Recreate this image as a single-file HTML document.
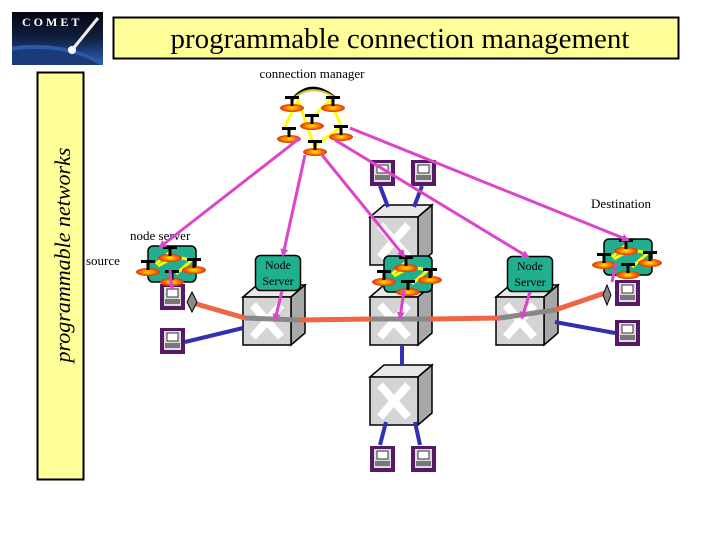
<!DOCTYPE html>
<html><head><meta charset="utf-8"><style>
body{margin:0;background:#fff}
svg{display:block}
text{font-family:"Liberation Serif",serif}
</style></head><body>
<svg width="720" height="540" viewBox="0 0 720 540" xmlns="http://www.w3.org/2000/svg">
<defs>
<radialGradient id="dg" cx="50%" cy="50%" r="50%"><stop offset="0" stop-color="#ffee00"/><stop offset="0.5" stop-color="#ff8800"/><stop offset="1" stop-color="#dd3300"/></radialGradient>
<linearGradient id="sky" x1="0" y1="0" x2="0" y2="1"><stop offset="0" stop-color="#050510"/><stop offset="0.5" stop-color="#102040"/><stop offset="1" stop-color="#3060c0"/></linearGradient>
<clipPath id="lc"><rect x="12" y="12" width="91" height="53"/></clipPath>
<marker id="ah" markerWidth="8" markerHeight="8" refX="6" refY="4" orient="auto" markerUnits="userSpaceOnUse"><path d="M0,0 L8,4 L0,8 Z" fill="#dd44cc"/></marker>
<g id="cube">
<polygon points="0,12 14,0 62,0 48,12" fill="#e8e8e8" stroke="#000" stroke-width="1.5"/>
<polygon points="48,12 62,0 62,48 48,60" fill="#a8a8a8" stroke="#000" stroke-width="1.5"/>
<rect x="0" y="12" width="48" height="48" fill="#d4d4d4" stroke="#000" stroke-width="1.5"/>
<path d="M10,20 L38,52 M38,20 L10,52" stroke="#fff" stroke-width="8"/>
</g>
<g id="pc">
<rect x="0" y="0" width="25" height="26" fill="#551a66"/>
<rect x="4" y="3" width="17" height="19" fill="#ddd"/>
<rect x="7" y="5" width="11" height="8" fill="#fff" stroke="#333"/>
<rect x="5" y="15" width="15" height="5" fill="#777"/>
</g>
<g id="disc">
<ellipse cx="0" cy="4" rx="12" ry="4" fill="url(#dg)"/>
<rect x="-1.5" y="-6" width="3" height="8" fill="#000"/>
<rect x="-7" y="-8" width="14" height="3" fill="#000"/>
</g>
<g id="clus">
<rect x="0" y="0" width="48" height="36" rx="5" fill="#20b090" stroke="#000" stroke-width="1.5"/>
<path d="M8,18 L22,6 M22,10 L44,14 L28,28 M10,20 L28,10" stroke="#ffff00" stroke-width="3" fill="none"/>
<use href="#disc" x="22" y="8"/>
<use href="#disc" x="0" y="22"/>
<use href="#disc" x="46" y="20"/>
<use href="#disc" x="24" y="32"/>
</g>
</defs>

<!-- logo -->
<g clip-path="url(#lc)">
<rect x="12" y="12" width="91" height="53" fill="url(#sky)"/>
<ellipse cx="35" cy="80" rx="75" ry="35" fill="#2a5aa8"/>
<ellipse cx="35" cy="82" rx="75" ry="33" fill="#1a3a78"/>
<path d="M98,18 L72,50" stroke="#eee" stroke-width="3"/>
<circle cx="72" cy="50" r="4" fill="#fff"/>
</g>
<text x="22" y="26" font-size="12" font-weight="bold" fill="#fff" letter-spacing="3">COMET</text>

<!-- title -->
<rect x="113.5" y="17.5" width="565" height="41" fill="#ffff99" stroke="#000" stroke-width="2"/>
<text x="400" y="48" font-size="29" text-anchor="middle">programmable connection management</text>

<!-- left box -->
<rect x="37.5" y="72.5" width="46" height="407" fill="#ffff99" stroke="#000" stroke-width="2"/>
<text transform="translate(70,255) rotate(-90)" font-size="22" font-style="italic" text-anchor="middle">programmable networks</text>

<text x="312" y="78" font-size="13" text-anchor="middle">connection manager</text>
<text x="621" y="208" font-size="13" text-anchor="middle">Destination</text>
<text x="130" y="240" font-size="13">node server</text>
<text x="86" y="265" font-size="13">source</text>

<!-- cubes -->
<use href="#cube" x="370" y="205"/>
<use href="#cube" x="243" y="285"/>
<use href="#cube" x="370" y="285"/>
<use href="#cube" x="496" y="285"/>
<use href="#cube" x="370" y="365"/>

<!-- blue lines -->
<g stroke="#3030b0" stroke-width="4">
<line x1="185" y1="342" x2="243" y2="328"/>
<line x1="380" y1="186" x2="388" y2="207"/>
<line x1="422" y1="186" x2="414" y2="207"/>
<line x1="402" y1="345" x2="402" y2="365"/>
<line x1="386" y1="422" x2="380" y2="445"/>
<line x1="415" y1="422" x2="420" y2="445"/>
<line x1="555" y1="322" x2="615" y2="333"/>
</g>
<!-- data path -->
<g stroke-width="5">
<line x1="193" y1="303" x2="245" y2="318" stroke="#ee6644"/>
<line x1="245" y1="318" x2="300" y2="320" stroke="#888"/>
<line x1="300" y1="320" x2="372" y2="319" stroke="#ee6644"/>
<line x1="372" y1="319" x2="430" y2="319" stroke="#888"/>
<line x1="430" y1="319" x2="500" y2="318" stroke="#ee6644"/>
<line x1="500" y1="318" x2="555" y2="310" stroke="#888"/>
<line x1="555" y1="310" x2="605" y2="293" stroke="#ee6644"/>
</g>
<polygon points="192,292 197,302 192,312 187,302" fill="#888" stroke="#000"/>
<polygon points="607,285 611,295 607,305 603,295" fill="#888" stroke="#000"/>

<!-- computers -->
<use href="#pc" x="160" y="284"/>
<use href="#pc" x="160" y="328"/>
<use href="#pc" x="370" y="160"/>
<use href="#pc" x="411" y="160"/>
<use href="#pc" x="370" y="446"/>
<use href="#pc" x="411" y="446"/>
<use href="#pc" x="615" y="280"/>
<use href="#pc" x="615" y="320"/>

<!-- clusters -->
<use href="#clus" x="148" y="246"/>
<use href="#clus" x="384" y="256"/>
<use href="#clus" x="604" y="239"/>

<!-- node servers -->
<rect x="255.5" y="255.5" width="45" height="35" rx="5" fill="#20b090" stroke="#000" stroke-width="1.5"/>
<text x="278" y="269" font-size="12" text-anchor="middle">Node</text>
<text x="278" y="285" font-size="12" text-anchor="middle">Server</text>
<rect x="507.5" y="256.5" width="45" height="35" rx="5" fill="#20b090" stroke="#000" stroke-width="1.5"/>
<text x="530" y="270" font-size="12" text-anchor="middle">Node</text>
<text x="530" y="286" font-size="12" text-anchor="middle">Server</text>

<!-- manager -->
<path d="M292,100 Q310,78 334,97" stroke="#000" stroke-width="3" fill="none"/>
<path d="M292,100 Q310,82 334,97" stroke="#cccc44" stroke-width="2" fill="none"/>
<path d="M298,100 L284,128 M298,100 L314,146 L340,128 M330,100 L342,128 M330,100 L312,118" stroke="#ffff00" stroke-width="3" fill="none"/>
<use href="#disc" x="292" y="104"/>
<use href="#disc" x="333" y="104"/>
<use href="#disc" x="312" y="122"/>
<use href="#disc" x="289" y="135"/>
<use href="#disc" x="341" y="133"/>
<use href="#disc" x="315" y="148"/>

<!-- pink control lines -->
<g stroke="#dd44cc" stroke-width="3" fill="none" marker-end="url(#ah)">
<line x1="300" y1="138" x2="160" y2="247"/>
<line x1="305" y1="155" x2="283" y2="255"/>
<line x1="322" y1="155" x2="404" y2="256"/>
<line x1="335" y1="140" x2="528" y2="257"/>
<line x1="350" y1="128" x2="628" y2="240"/>
<line x1="282" y1="291" x2="275" y2="320"/>
<line x1="404" y1="290" x2="400" y2="318"/>
<line x1="530" y1="292" x2="522" y2="318"/>
</g>
<g stroke="#dd44cc" stroke-width="3">
<line x1="170" y1="270" x2="172" y2="290"/>
<line x1="616" y1="263" x2="612" y2="282"/>
</g>
</svg>
</body></html>
